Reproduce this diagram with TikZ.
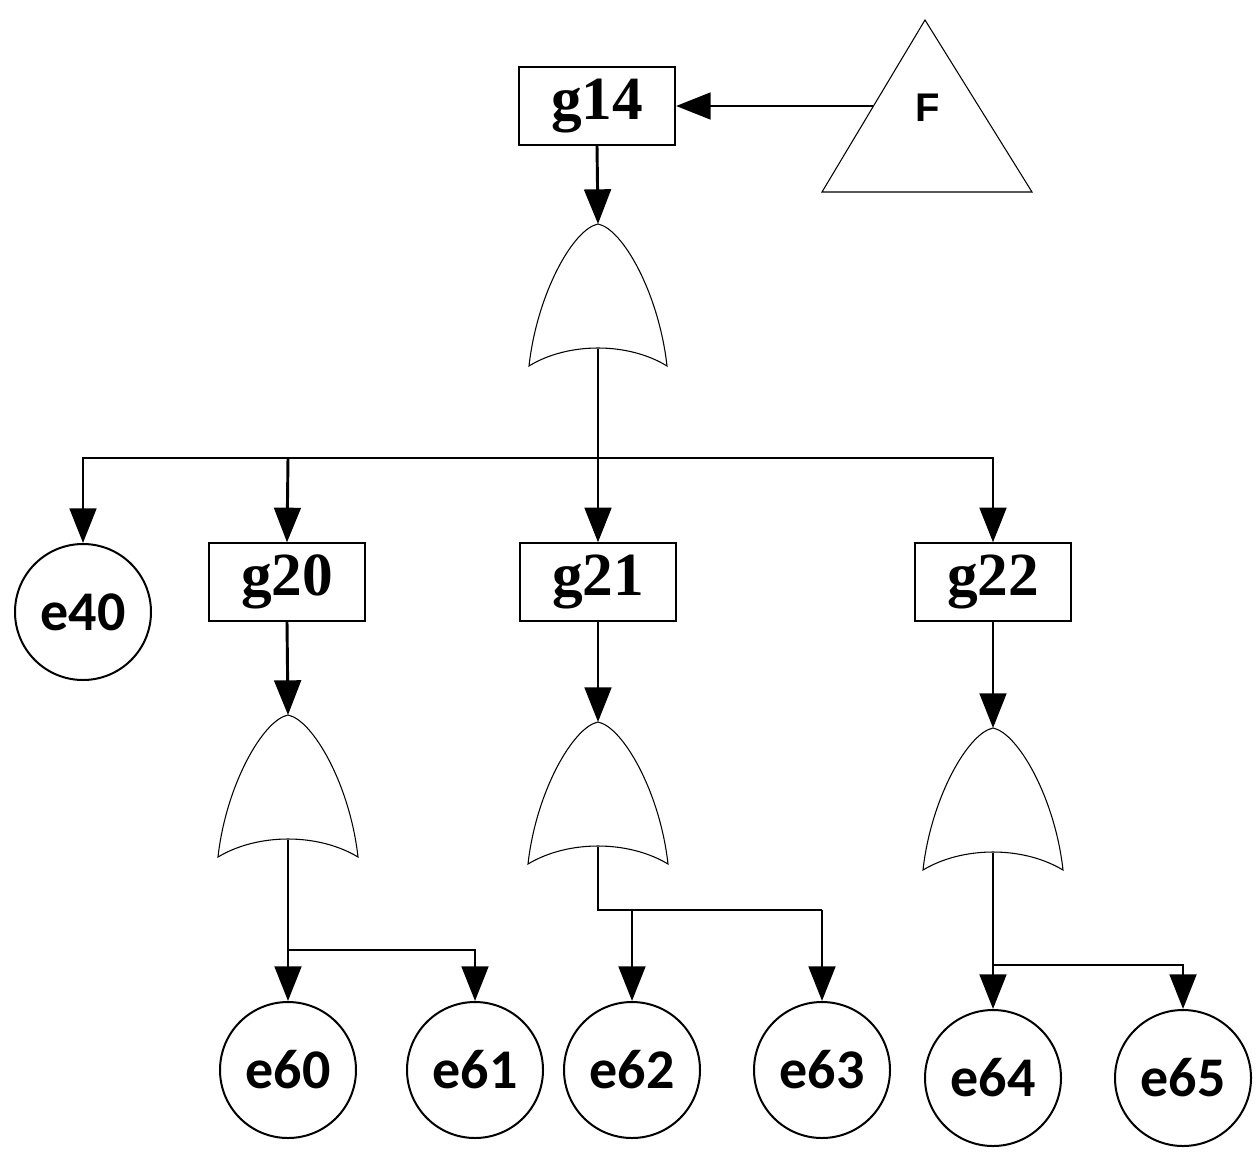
\documentclass[tikz,border=0pt]{standalone}
\usepackage{fontspec}
\setmainfont{Liberation Serif}
\newfontfamily\carl{Carlito}
\newfontfamily\lsans{Liberation Sans}
\usetikzlibrary{arrows.meta}
\begin{document}
\begin{tikzpicture}[x=0.75pt,y=-0.75pt,line width=2.2pt,
  arr/.style={-{Triangle[length=26pt,width=20pt]}},
  gbox/.style={draw,line width=1.5pt,minimum width=117pt,minimum height=58pt,inner sep=0pt,font=\fontsize{46}{50}\selectfont\bfseries},
  ev/.style={draw,circle,line width=1.5pt,minimum size=102pt,inner sep=0pt,font=\fontsize{42}{46}\selectfont\carl\bfseries},
  gate/.style={line width=0.8pt,fill=white}]
\useasboundingbox (0,0) rectangle (1259,1163);
% nodes
\node[gbox] (g14) at (597,106) {g14};
\node[gbox] (g20) at (287,582) {g20};
\node[gbox] (g21) at (598,582) {g21};
\node[gbox] (g22) at (993,582) {g22};
\node[ev] (e40) at (83,612) {e40};
\node[ev] (e60) at (288,1070) {e60};
\node[ev] (e61) at (475,1070) {e61};
\node[ev] (e62) at (632,1070) {e62};
\node[ev] (e63) at (822,1070) {e63};
\node[ev] (e64) at (993,1078) {e64};
\node[ev] (e65) at (1183,1078) {e65};
% triangle F
\draw[line width=0.8pt] (925,20) -- (1032,192) -- (822,192) -- cycle;
\node[font=\fontsize{30}{34}\selectfont\lsans\bfseries] (F) at (928,108) {F};
\coordinate (Fl) at (873,106);
\draw[arr] (Fl) -- (g14.east);
% gates
\newcommand{\orgate}[4]{% name, xc, ytop, halfwidth
  \coordinate (#1top) at (#2,#3);
  \coordinate (#1out) at (#2,#3+125);
  \draw[gate] (#2-#4,#3+142) .. controls (#2-#4+8,#3+70) and (#2-25,#3+5) .. (#2,#3)
     .. controls (#2+25,#3+5) and (#2+#4-8,#3+70) .. (#2+#4,#3+142)
     .. controls (#2+30,#3+118) and (#2-30,#3+118) .. cycle;}
\orgate{a}{598}{224}{69}
\orgate{b}{288}{715}{70}
\orgate{c}{598}{722}{70}
\orgate{d}{993}{728}{70}
\draw[arr] (g14.south) -- (atop);
\draw[arr] (g20.south) -- (btop);
\draw[arr] (g21.south) -- (ctop);
\draw[arr] (g22.south) -- (dtop);
% top bus
\coordinate (bus) at (598,458);
\draw (aout) -- (bus);
\draw[arr] (bus) -- (83,458) -- (e40.north);
\draw[arr] (288,458) -- (g20.north);
\draw[arr] (bus) -- (g21.north);
\draw[arr] (bus) -- (993,458) -- (g22.north);
% g20 branch
\draw[arr] (bout) -- (e60.north);
\draw[arr] (288,950) -- (475,950) -- (e61.north);
% g21 branch
\draw (cout) -- (598,910) -- (822,910);
\draw[arr] (632,910) -- (e62.north);
\draw[arr] (822,910) -- (e63.north);
% g22 branch
\draw[arr] (dout) -- (e64.north);
\draw[arr] (993,965) -- (1183,965) -- (e65.north);
\end{tikzpicture}
\end{document}
